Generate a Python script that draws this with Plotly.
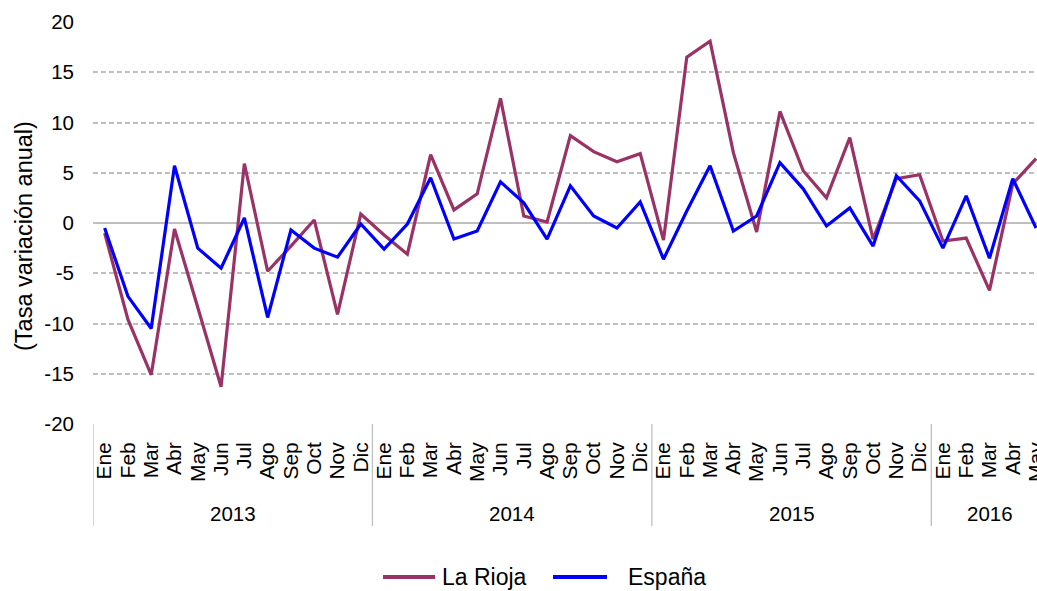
import plotly.graph_objects as go

# ---- data ----
months = ["Ene", "Feb", "Mar", "Abr", "May", "Jun", "Jul", "Ago", "Sep", "Oct", "Nov", "Dic"]
years = ["2013", "2014", "2015", "2016"]
months_per_year = [12, 12, 12, 5]

la_rioja = [-1.0, -9.6, -15.1, -0.6, -8.4, -16.3, 5.9, -4.8, -2.3, 0.3, -9.1, 0.9,
            -1.2, -3.1, 6.8, 1.3, 2.9, 12.4, 0.7, 0.1, 8.7, 7.1, 6.1, 6.9,
            -1.7, 16.5, 18.1, 7.0, -0.9, 11.1, 5.2, 2.5, 8.5, -1.6, 4.4, 4.8,
            -1.8, -1.5, -6.7, 3.9, 6.4]
espana = [-0.5, -7.3, -10.5, 5.7, -2.5, -4.5, 0.5, -9.4, -0.7, -2.5, -3.4, -0.1,
          -2.6, -0.1, 4.5, -1.6, -0.8, 4.1, 2.0, -1.6, 3.7, 0.7, -0.5, 2.1,
          -3.6, 1.2, 5.7, -0.8, 0.7, 6.0, 3.4, -0.3, 1.5, -2.3, 4.7, 2.2,
          -2.5, 2.7, -3.5, 4.4, -0.5]

y_ticks = [-20, -15, -10, -5, 0, 5, 10, 15, 20]
y_tick_labels = ["-20", "-15", "-10", "-5", "0", "5", "10", "15", "20"]
y_title = "(Tasa variación anual)"
series_names = ["La Rioja", "España"]
series_colors = ["#993366", "#0000FF"]

# ---- derived ----
month_labels = []
for n in months_per_year:
    month_labels += months[:n]
x_idx = list(range(len(month_labels)))

FONT = "Liberation Sans, Arial, sans-serif"
W, H = 1037, 591
ML, MR, MT, MB = 93, 0, 22, 167
plot_w = W - ML - MR
plot_h = H - MT - MB


def py(px):  # pixel y -> paper y
    return (H - MB - px) / plot_h


def pxx(px):  # pixel x -> paper x
    return (px - ML) / plot_w


fig = go.Figure()
for name, vals, col in zip(series_names, [la_rioja, espana], series_colors):
    fig.add_trace(go.Scatter(x=x_idx, y=vals, mode="lines", name=name,
                             line=dict(color=col, width=3.2), showlegend=False))

shapes = []
annotations = []

# group separators and year labels
start = 0
bounds = [-0.5]
for yr, n in zip(years, months_per_year):
    end = start + n
    bounds.append(end - 0.5)
    annotations.append(dict(x=(start + end - 1) / 2, xref="x", y=py(513), yref="paper",
                            text=yr, showarrow=False, xanchor="center", yanchor="middle",
                            font=dict(family=FONT, size=20.5, color="#000000")))
    start = end
for b in bounds[:-1]:
    shapes.append(dict(type="line", xref="x", yref="paper", x0=b, x1=b,
                       y0=0, y1=py(526), line=dict(color="#BFBFBF", width=1.3)))

# y-axis title
annotations.append(dict(x=pxx(24), xref="paper", y=py(236), yref="paper", text=y_title,
                        textangle=-90, showarrow=False, xanchor="center", yanchor="middle",
                        font=dict(family=FONT, size=23.5, color="#000000")))

# legend (manual)
legend_items = [(383, 435, 440), (553, 607, 626)]
for (lx0, lx1, tx), name, col in zip(legend_items, series_names, series_colors):
    shapes.append(dict(type="line", xref="paper", yref="paper",
                       x0=pxx(lx0), x1=pxx(lx1), y0=py(577), y1=py(577),
                       line=dict(color=col, width=4)))
    annotations.append(dict(x=pxx(tx), xref="paper", y=py(577), yref="paper",
                            text=name, showarrow=False, xanchor="left", yanchor="middle",
                            font=dict(family=FONT, size=23, color="#000000")))

fig.update_layout(
    width=W, height=H,
    margin=dict(l=ML, r=MR, t=MT, b=MB, pad=0, autoexpand=False),
    paper_bgcolor="white", plot_bgcolor="white",
    font=dict(family=FONT, color="#000000"),
    shapes=shapes, annotations=annotations,
    showlegend=False,
)
fig.update_xaxes(
    range=[-0.5, 40.04], tickmode="array", tickvals=x_idx, ticktext=month_labels,
    tickangle=-90, tickfont=dict(family=FONT, size=21), ticks="",
    ticklabelstandoff=13, ticklabeloverflow="allow", automargin=False,
    showgrid=False, zeroline=False, showline=False,
)
fig.update_yaxes(
    range=[-20, 20], tickmode="array", tickvals=y_ticks, ticktext=y_tick_labels,
    tickfont=dict(family=FONT, size=20.5), ticklabelstandoff=18, automargin=False,
    showgrid=True, gridcolor="#BFBFBF", gridwidth=1.5, griddash="5px,3px",
    zeroline=True, zerolinecolor="#BFBFBF", zerolinewidth=2,
    showline=False,
)

fig.write_html("out.html", config={"displayModeBar": False},
               post_script="document.body.style.margin='0';document.body.style.overflow='hidden';")
